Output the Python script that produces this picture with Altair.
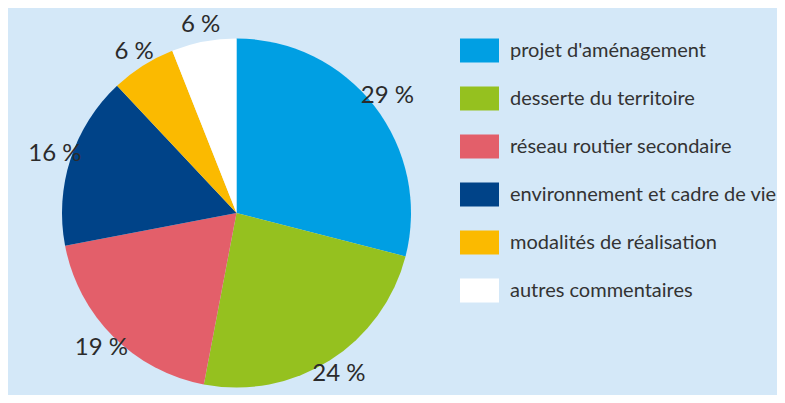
import altair as alt
import pandas as pd

categories = [
    "projet d'aménagement",
    "desserte du territoire",
    "réseau routier secondaire",
    "environnement et cadre de vie",
    "modalités de réalisation",
    "autres commentaires",
]
values = [29, 24, 19, 16, 6, 6]
labels = ["29 %", "24 %", "19 %", "16 %", "6 %", "6 %"]
colors = ["#009FE3", "#95C11F", "#E35F6A", "#004388", "#FBBA00", "#FFFFFF"]

df = pd.DataFrame({"cat": categories, "value": values, "label": labels, "idx": list(range(len(values)))})

FONT = "Lato"

base = alt.Chart(df).encode(
    theta=alt.Theta("value:Q", stack=True),
    order=alt.Order("idx:Q", sort="ascending"),
)

pie = base.mark_arc(outerRadius=174.5, strokeWidth=0).encode(
    color=alt.Color(
        "cat:N",
        scale=alt.Scale(domain=categories, range=colors),
        sort=categories,
        legend=alt.Legend(
            title=None,
            orient="none",
            legendX=452,
            legendY=-2,
            symbolType="M-1,-0.615H1V0.615H-1Z",
            symbolSize=1521,
            symbolStrokeWidth=0,
            symbolOpacity=1,
            labelFont=FONT,
            labelFontSize=20,
            labelColor="#333333",
            labelOffset=11,
            rowPadding=16,
            padding=0,
            labelLimit=400,
        ),
    )
)

text = base.mark_text(radius=191, font=FONT, fontSize=24, color="#2b2b2b").encode(
    text="label:N"
)

chart = (
    alt.layer(pie, text)
    .properties(
        width=457,
        height=360,
        padding={"left": 0, "top": 25, "right": 312, "bottom": 2},
        autosize=alt.AutoSizeParams(type="none"),
        background="#D4E8F8",
    )
    .configure_view(stroke=None)
)

chart.save("out.html", embed_options={"renderer": "svg", "actions": False})
